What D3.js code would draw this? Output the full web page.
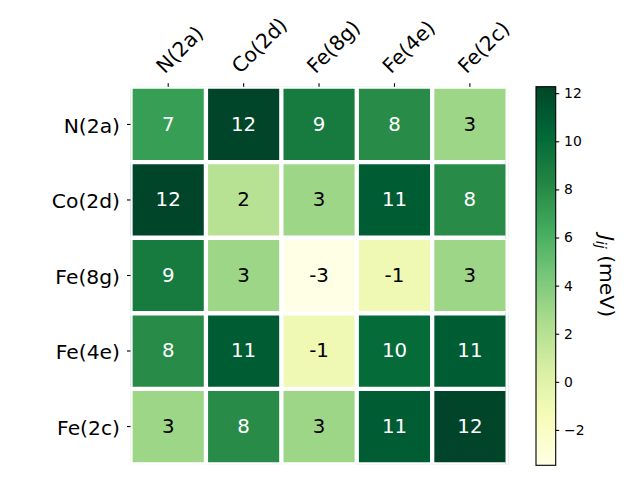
<!DOCTYPE html>
<html>
<head>
<meta charset="utf-8">
<script src="https://cdn.jsdelivr.net/npm/d3@7"></script>
<style>
  html, body { margin: 0; padding: 0; background: #fff; }
  svg { display: block; font-family: "DejaVu Sans", sans-serif; }
</style>
</head>
<body>
<svg id="chart" width="640" height="480"></svg>
<script>
// ---- data ----
const sites = ["N(2a)", "Co(2d)", "Fe(8g)", "Fe(4e)", "Fe(2c)"];
const rowNA  = [7, 12.27, 9, 8, 3];
const rowCo  = [12.27, 2, 3, 11, 8];
const rowFe8 = [9, 3, -3.47, -1, 3];
const rowFe4 = [8, 11, -1, 10, 11];
const rowFe2 = [3, 8, 3, 11, 12.27];
const jMatrix = [rowNA, rowCo, rowFe8, rowFe4, rowFe2];
const cbarTicks = [-2, 0, 2, 4, 6, 8, 10, 12];
const cbarTitleMain = "J";
const cbarTitleSub = "ij";
const cbarTitleUnit = " (meV)";
const ylgnStops = ["#ffffe5","#f7fcb9","#d9f0a3","#addd8e","#78c679","#41ab5d","#238443","#006837","#004529"];

// ---- layout ----
const plot = { left: 130.5, right: 507.6, top: 86.7, bottom: 464.3 };
const cbar = { left: 536, right: 555.7, top: 86.7, bottom: 465.3 };
const gridW = 4.3;
const labelFont = "20.3px";

const svg = d3.select("#chart");

const allVals = jMatrix.flat();
const [vmin, vmax] = d3.extent(allVals);
const color = d3.scaleLinear()
  .domain(d3.range(ylgnStops.length).map(i => vmin + (vmax - vmin) * i / (ylgnStops.length - 1)))
  .range(ylgnStops)
  .interpolate(d3.interpolateRgb)
  .clamp(true);
const threshold = (vmin + vmax) / 2;

const x = d3.scaleBand().domain(sites).range([plot.left, plot.right]);
const y = d3.scaleBand().domain(sites).range([plot.top, plot.bottom]);

// clip
const defs = svg.append("defs");
defs.append("clipPath").attr("id", "plotclip")
  .append("rect")
  .attr("x", plot.left).attr("y", plot.top)
  .attr("width", plot.right - plot.left + 1.4).attr("height", plot.bottom - plot.top);

const cells = svg.append("g").attr("clip-path", "url(#plotclip)");
const cellData = [];
jMatrix.forEach((row, i) => row.forEach((v, j) => cellData.push({ r: sites[i], c: sites[j], v })));

cells.selectAll("rect.cell").data(cellData).join("rect")
  .attr("class", "cell")
  .attr("x", d => x(d.c)).attr("y", d => y(d.r))
  .attr("width", x.bandwidth() + 1.4).attr("height", y.bandwidth())
  .attr("fill", d => color(d.v));

// white grid lines
const bounds = d3.range(sites.length + 1);
cells.selectAll("line.gv").data(bounds).join("line")
  .attr("x1", k => plot.left + k * x.step() - (k === sites.length ? 0.4 : 0))
  .attr("x2", k => plot.left + k * x.step() - (k === sites.length ? 0.4 : 0))
  .attr("y1", plot.top - 5).attr("y2", plot.bottom + 5)
  .attr("stroke", "#fff").attr("stroke-width", k => k === sites.length ? 3.4 : gridW);
cells.selectAll("line.gh").data(bounds).join("line")
  .attr("y1", k => plot.top + k * y.step())
  .attr("y2", k => plot.top + k * y.step())
  .attr("x1", plot.left - 5).attr("x2", plot.right - 2)
  .attr("stroke", "#fff").attr("stroke-width", gridW);

// annotations
svg.append("g").selectAll("text").data(cellData).join("text")
  .attr("x", d => x(d.c) + x.bandwidth() / 2)
  .attr("y", d => y(d.r) + y.bandwidth() / 2 + 6.3)
  .attr("text-anchor", "middle")
  .attr("font-size", "19.8px")
  .attr("fill", d => d.v > threshold ? "#ffffff" : "#000000")
  .text(d => String(Math.round(d.v)));

// x ticks (top)
const xt = svg.append("g");
xt.selectAll("line").data(sites).join("line")
  .attr("x1", d => x(d) + x.bandwidth() / 2).attr("x2", d => x(d) + x.bandwidth() / 2)
  .attr("y1", plot.top - 3.5).attr("y2", plot.top)
  .attr("stroke", "#000").attr("stroke-width", 1.1);
xt.selectAll("text").data(sites).join("text")
  .attr("transform", d => `translate(${x(d) + x.bandwidth() / 2 - 3.5},74.5) rotate(-45)`)
  .attr("text-anchor", "start")
  .attr("font-size", labelFont)
  .attr("fill", "#000")
  .text(d => d);

// y ticks (left)
const yt = svg.append("g");
yt.selectAll("line").data(sites).join("line")
  .attr("y1", d => y(d) + y.bandwidth() / 2).attr("y2", d => y(d) + y.bandwidth() / 2)
  .attr("x1", plot.left - 3.5).attr("x2", plot.left)
  .attr("stroke", "#000").attr("stroke-width", 1.1);
yt.selectAll("text").data(sites).join("text")
  .attr("x", 120)
  .attr("y", d => y(d) + y.bandwidth() / 2 + 8.3)
  .attr("text-anchor", "end")
  .attr("font-size", labelFont)
  .attr("fill", "#000")
  .text(d => d);

// colorbar
const cy = d3.scaleLinear().domain([vmin, vmax]).range([cbar.bottom, cbar.top]);
const grad = defs.append("linearGradient").attr("id", "cbgrad")
  .attr("x1", 0).attr("y1", 1).attr("x2", 0).attr("y2", 0);
d3.range(0, 1.0001, 0.02).forEach(t => {
  grad.append("stop").attr("offset", t).attr("stop-color", color(vmin + t * (vmax - vmin)));
});
svg.append("rect")
  .attr("x", cbar.left).attr("y", cbar.top)
  .attr("width", cbar.right - cbar.left).attr("height", cbar.bottom - cbar.top)
  .attr("fill", "url(#cbgrad)")
  .attr("stroke", "#000").attr("stroke-width", 1.1);

const cbAxis = d3.axisRight(cy).tickValues(cbarTicks).tickSize(3.5).tickPadding(4.9)
  .tickFormat(d => d < 0 ? "\u2212" + Math.abs(d) : String(d));
const cbg = svg.append("g").attr("transform", `translate(${cbar.right},0)`).call(cbAxis);
cbg.select(".domain").remove();
cbg.selectAll(".tick line").attr("stroke", "#000").attr("stroke-width", 1.1);
cbg.selectAll(".tick text").attr("font-size", "13.9px").attr("font-family", "DejaVu Sans, sans-serif").attr("fill", "#000");

// colorbar label
const lbl = svg.append("text")
  .attr("transform", `translate(600,${(cbar.top + cbar.bottom) / 2}) rotate(90)`)
  .attr("text-anchor", "middle")
  .attr("font-size", "20.3px")
  .attr("fill", "#000");
lbl.append("tspan").attr("font-style", "italic").text(cbarTitleMain);
lbl.append("tspan").attr("font-style", "italic").attr("font-size", "14.2px").attr("dy", 4).text(cbarTitleSub);
lbl.append("tspan").attr("dy", -4).text(cbarTitleUnit);
</script>
</body>
</html>
